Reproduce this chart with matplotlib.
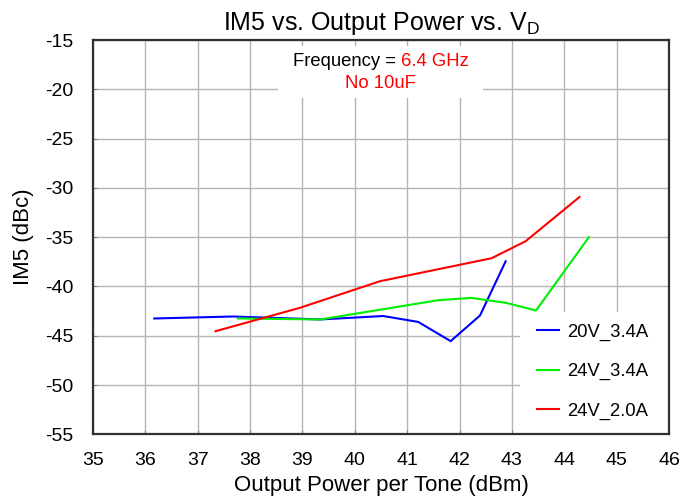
import matplotlib

matplotlib.use("Agg")

import matplotlib.pyplot as plt
from matplotlib.patches import Rectangle

plt.rcParams["font.family"] = ["Liberation Sans", "DejaVu Sans"]
plt.rcParams["axes.unicode_minus"] = False

# Output power per tone (dBm) and IM5 (dBc) for each bias condition
pout_20v_34a = [36.17, 37.67, 39.34, 40.54, 41.21, 41.83, 42.39, 42.88]
im5_20v_34a = [-43.25, -43.05, -43.35, -43.0, -43.6, -45.55, -42.95, -37.45]

pout_24v_34a = [37.77, 39.34, 41.59, 42.22, 42.89, 43.46, 44.47]
im5_24v_34a = [-43.25, -43.35, -41.4, -41.16, -41.67, -42.44, -35.0]

pout_24v_20a = [37.34, 38.95, 40.48, 42.61, 43.26, 44.29]
im5_24v_20a = [-44.54, -42.17, -39.47, -37.14, -35.42, -30.93]

series = [
    ("20V_3.4A", pout_20v_34a, im5_20v_34a, "#0000ff"),
    ("24V_3.4A", pout_24v_34a, im5_24v_34a, "#00ee00"),
    ("24V_2.0A", pout_24v_20a, im5_24v_20a, "#ff0000"),
]

x_ticks = list(range(35, 47))
y_ticks = list(range(-55, -14, 5))

fig = plt.figure(figsize=(6.81, 5.0), dpi=100)
ax = fig.add_axes([0.1366, 0.1314, 0.9824 - 0.1366, 0.92 - 0.1314])

for label, xs, ys, color in series:
    ax.plot(xs, ys, color=color, linewidth=1.5, label=label, zorder=3)

ax.set_xlim(35, 46)
ax.set_ylim(-55, -15)
ax.set_xticks(x_ticks)
ax.set_yticks(y_ticks)
ax.grid(True, color="#b4b4b4", linewidth=1.0, zorder=0)
ax.set_axisbelow(True)
ax.tick_params(direction="in", length=3, color="#808080", labelsize=14)
ax.tick_params(axis="x", pad=13)
ax.tick_params(axis="y", pad=14)
for spine in ax.spines.values():
    spine.set_color("#303030")
    spine.set_linewidth(1.6)
    spine.set_zorder(6)

ax.set_title("IM5 vs. Output Power vs. V$_\\mathregular{D}$", fontsize=18, pad=7)
ax.set_xlabel("Output Power per Tone (dBm)", fontsize=16, labelpad=4)
ax.set_ylabel("IM5 (dBc)", fontsize=16, labelpad=8)

# white box behind the test-condition note
ax.add_patch(Rectangle((38.53, -20.9), 3.92, 5.3, facecolor="white", edgecolor="none", zorder=2))
freq = ax.text(38.82, -17.2, "Frequency = ", ha="left", va="center", fontsize=13.3, color="black", zorder=4)
ax.annotate("6.4 GHz", xy=(1, 0), xycoords=freq, ha="left", va="bottom", fontsize=13.3, color="#ff0000", zorder=4)
ax.text(40.48, -19.4, "No 10uF", ha="center", va="center", fontsize=13.3, color="#ff0000", zorder=4)

# white panel behind the legend, flush with the lower-right corner
ax.add_patch(Rectangle((0.741, 0.0), 0.259, 0.31, transform=ax.transAxes,
                       facecolor="white", edgecolor="none", zorder=4))
legend = ax.legend(
    loc="lower right",
    bbox_to_anchor=(1.0 - 6 / 576, 0.0),
    fontsize=13.3,
    handlelength=1.15,
    handletextpad=0.45,
    labelspacing=1.2,
    borderpad=0.8,
    borderaxespad=0.0,
    frameon=False,
)
legend.set_zorder(5)
for line in legend.get_lines():
    line.set_linewidth(1.5)

fig.savefig("out.png", dpi=100)
plt.close(fig)
